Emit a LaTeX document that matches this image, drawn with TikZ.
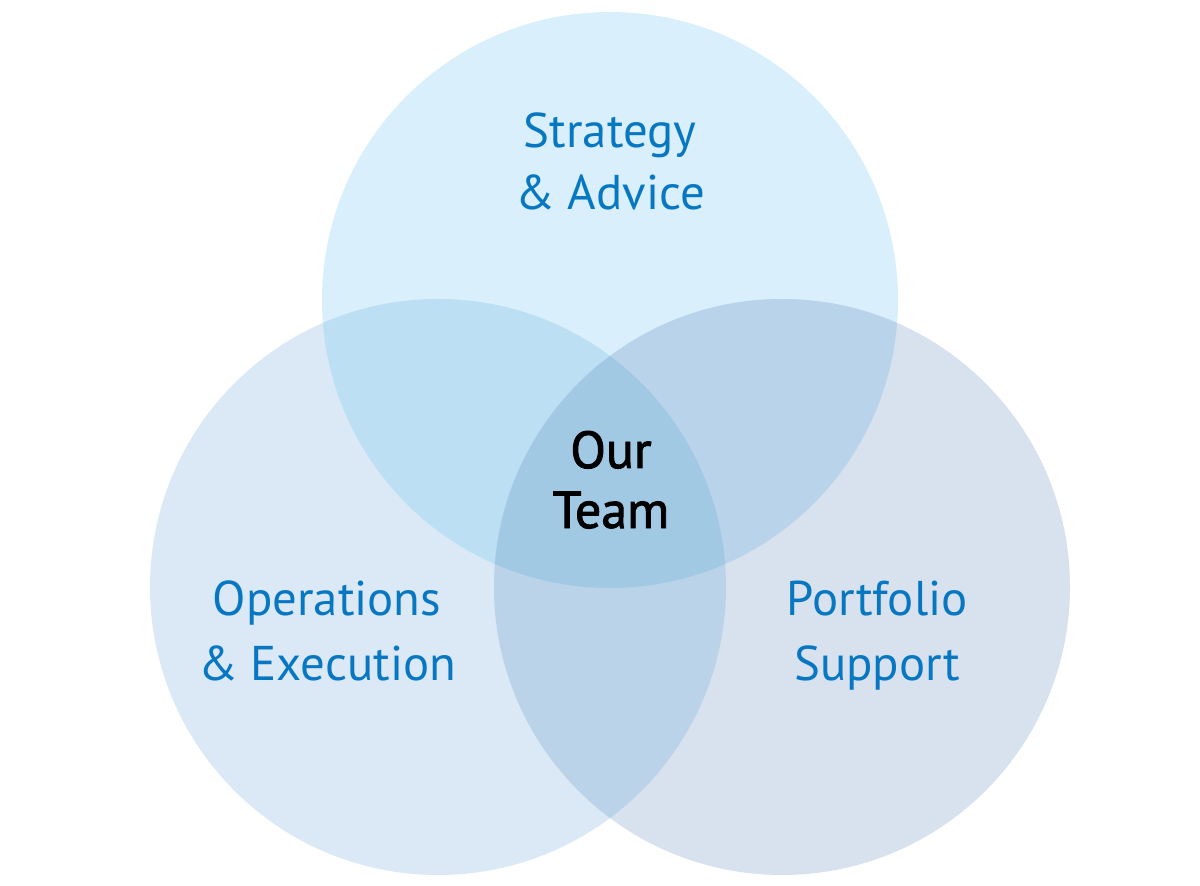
\documentclass[tikz,border=0pt]{standalone}
\usepackage{fontspec}
\setmainfont{PT Sans}
\newfontfamily\teamfont[FakeBold=1.8]{PT Sans}
\definecolor{cTop}{HTML}{D9EFFB}
\definecolor{cLeft}{HTML}{DBE9F6}
\definecolor{cRight}{HTML}{D8E2EE}
\definecolor{cTL}{HTML}{BCDFF4}
\definecolor{cTR}{HTML}{B9D4EA}
\definecolor{cLR}{HTML}{BBD3E9}
\definecolor{cMid}{HTML}{A2C9E4}
\definecolor{txtblue}{HTML}{0877C2}
\tikzset{
  lbl/.style={anchor=base, inner sep=0pt, text=txtblue, font=\fontsize{24.4}{29}\selectfont},
  mid/.style={anchor=base, inner sep=0pt, text=black, font=\teamfont\fontsize{26}{30}\selectfont}
}
\begin{document}
\begin{tikzpicture}[x=0.5pt,y=0.5pt]
\useasboundingbox (0,0) rectangle (1200,885);
\coordinate (T) at (610,585);
\coordinate (L) at (438,298);
\coordinate (R) at (782,298);
\def\rr{144pt}
\fill[cTop] (T) circle[radius=\rr];
\fill[cLeft] (L) circle[radius=\rr];
\fill[cRight] (R) circle[radius=\rr];
\begin{scope}
  \clip (T) circle[radius=\rr];
  \fill[cTL] (L) circle[radius=\rr];
  \fill[cTR] (R) circle[radius=\rr];
\end{scope}
\begin{scope}
  \clip (L) circle[radius=\rr];
  \fill[cLR] (R) circle[radius=\rr];
  \clip (R) circle[radius=\rr];
  \fill[cMid] (T) circle[radius=\rr];
\end{scope}
\node[lbl] (s1) at (610,737) {Strategy};
\node[lbl] (s2) at (610,675) {\&~Advice};
\node[lbl] (o1) at (327,270) {Operations};
\node[lbl] (o2) at (327,205) {\&~Execution};
\node[lbl] (p1) at (877,270) {Portfolio};
\node[lbl] (p2) at (877,205) {Support};
\node[mid] (m1) at (611,417) {Our};
\node[mid] (m2) at (611,357) {Team};
\end{tikzpicture}
\end{document}
